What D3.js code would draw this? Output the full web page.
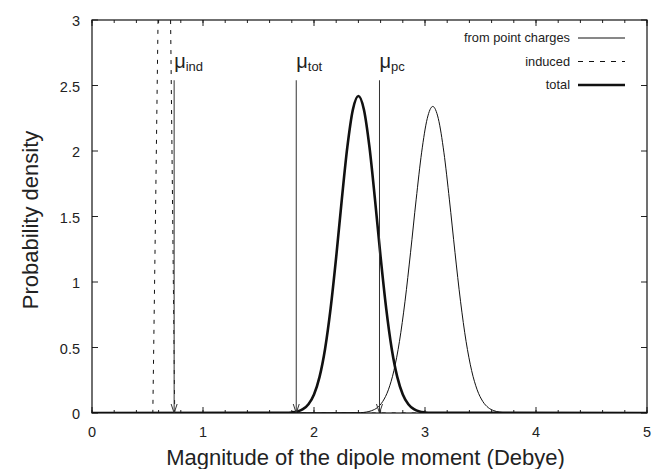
<!DOCTYPE html>
<html>
<head>
<meta charset="utf-8">
<script src="https://cdn.jsdelivr.net/npm/d3@7"></script>
<style>
  body { margin: 0; background: #fff; }
  svg { font-family: "Liberation Sans", Arial, sans-serif; }
</style>
</head>
<body>
<div id="mount"></div>
<script>
// curves (x in Debye, y = probability density)
var pcX = [0, 2.42, 2.47, 2.52, 2.57, 2.62, 2.67, 2.72, 2.77, 2.82, 2.87, 2.92, 2.97, 3.02, 3.07,
           3.12, 3.17, 3.22, 3.27, 3.32, 3.37, 3.42, 3.47, 3.52, 3.57, 3.62, 3.67, 3.72, 5];
var pcY = [0, 0.003, 0.007, 0.018, 0.041, 0.089, 0.177, 0.324, 0.547, 0.853, 1.227, 1.627, 1.991, 2.247, 2.34,
           2.247, 1.991, 1.627, 1.227, 0.853, 0.547, 0.324, 0.177, 0.089, 0.041, 0.018, 0.007, 0.003, 0];

var indX = [0, 0.548, 0.572, 0.595, 0.65, 0.708, 0.727, 0.745, 5];
var indY = [0, 0, 1.5, 3, 6, 3, 1.5, 0, 0];

var totX = [0, 1.75, 1.80, 1.85, 1.90, 1.95, 2.00, 2.05, 2.10, 2.15, 2.20, 2.25, 2.30, 2.35, 2.40,
            2.45, 2.50, 2.55, 2.60, 2.65, 2.70, 2.75, 2.80, 2.85, 2.90, 2.95, 3.00, 3.05, 5];
var totY = [0, 0.001, 0.004, 0.011, 0.029, 0.067, 0.142, 0.276, 0.491, 0.8, 1.191, 1.625, 2.027, 2.315, 2.42,
            2.315, 2.027, 1.625, 1.191, 0.8, 0.491, 0.276, 0.142, 0.067, 0.029, 0.011, 0.004, 0.001, 0];

// mean values marked with arrows
var markerNames = ['ind', 'tot', 'pc'];
var markerX = [0.74, 1.84, 2.59];
var markerTop = 2.54;

var seriesNames = ['from point charges', 'induced', 'total'];
var xTicks = [0, 1, 2, 3, 4, 5];
var yTicks = [0, 0.5, 1, 1.5, 2, 2.5, 3];

var margin = { top: 20, right: 5, bottom: 56, left: 92 };
var width = 652 - margin.left - margin.right,
    height = 469 - margin.top - margin.bottom;

var svg = d3.select('#mount').append('svg')
    .attr('width', 652)
    .attr('height', 469);

var graph = svg.append('g')
    .attr('transform', `translate(${margin.left},${margin.top})`);

var x = d3.scaleLinear().domain([0, 5]).range([0, width]);
var y = d3.scaleLinear().domain([0, 3]).range([height, 0]);

svg.append('defs').append('clipPath').attr('id', 'clip')
  .append('rect').attr('width', width).attr('height', height);

// ticks point inward, mirrored on top and right like gnuplot
var minor = d3.range(0, 5.001, 0.2);
function tickMarks(sel, vals, len, axis) {
  if (axis === 'x') {
    sel.selectAll(null).data(vals).enter().append('line')
        .attr('x1', d => x(d)).attr('x2', d => x(d))
        .attr('y1', height).attr('y2', height - len);
    sel.selectAll(null).data(vals).enter().append('line')
        .attr('x1', d => x(d)).attr('x2', d => x(d))
        .attr('y1', 0).attr('y2', len);
  } else {
    sel.selectAll(null).data(vals).enter().append('line')
        .attr('y1', d => y(d)).attr('y2', d => y(d))
        .attr('x1', 0).attr('x2', len);
    sel.selectAll(null).data(vals).enter().append('line')
        .attr('y1', d => y(d)).attr('y2', d => y(d))
        .attr('x1', width).attr('x2', width - len);
  }
}
var ticks = graph.append('g').attr('stroke', '#222').attr('stroke-width', 1);
tickMarks(ticks, minor, 3, 'x');
tickMarks(ticks, xTicks, 6, 'x');
tickMarks(ticks, yTicks, 6, 'y');

graph.append('g').selectAll('text').data(xTicks).enter().append('text')
    .attr('x', d => x(d)).attr('y', height + 24)
    .attr('text-anchor', 'middle')
    .style('font-size', '14.5px').style('fill', '#222')
    .text(d => d);

graph.append('g').selectAll('text').data(yTicks).enter().append('text')
    .attr('x', -12).attr('y', d => y(d) + 6)
    .attr('text-anchor', 'end')
    .style('font-size', '14.5px').style('fill', '#222')
    .text(d => d);

// axis titles
svg.append('text')
    .attr('x', margin.left + width / 2 - 4).attr('y', 465)
    .attr('text-anchor', 'middle')
    .style('font-size', '22px').style('fill', '#222')
    .text('Magnitude of the dipole moment (Debye)');

svg.append('text')
    .attr('transform', 'translate(38,220) rotate(-90)')
    .attr('text-anchor', 'middle')
    .style('font-size', '22px').style('fill', '#222')
    .text('Probability density');

// curves
var line = d3.line()
    .x(d => x(d[0]))
    .y(d => y(d[1]))
    .curve(d3.curveMonotoneX);

var plot = graph.append('g').attr('clip-path', 'url(#clip)').attr('fill', 'none').attr('stroke', '#111');

plot.append('path')
    .datum(d3.zip(pcX, pcY))
    .attr('stroke-width', 1)
    .attr('d', line);

plot.append('path')
    .datum(d3.zip(indX, indY))
    .attr('stroke-width', 1)
    .attr('stroke-dasharray', '4,6')
    .attr('d', line.curve(d3.curveLinear));

plot.append('path')
    .datum(d3.zip(totX, totY))
    .attr('stroke-width', 2.6)
    .attr('d', line.curve(d3.curveMonotoneX));

// arrows for the mean values
var marks = graph.append('g');
markerX.forEach(function(mx, i) {
  var px = x(mx);
  marks.append('line')
      .attr('x1', px).attr('x2', px)
      .attr('y1', y(markerTop)).attr('y2', y(0))
      .attr('stroke', '#333').attr('stroke-width', 1);
  marks.append('path')
      .attr('d', `M${px - 3},${y(0) - 9}L${px},${y(0)}L${px + 3},${y(0) - 9}`)
      .attr('fill', 'none').attr('stroke', '#333').attr('stroke-width', 1);
  var t = marks.append('text')
      .attr('x', px).attr('y', y(markerTop) - 12)
      .style('fill', '#222');
  t.append('tspan').style('font-size', '20px').text('μ');
  t.append('tspan').style('font-size', '13px').attr('dy', 3).text(markerNames[i]);
});

// frame
graph.append('rect')
    .attr('width', width).attr('height', height)
    .attr('fill', 'none').attr('stroke', '#111').attr('stroke-width', 1.2);

// legend
var legend = graph.append('g');
var dashes = [null, '5,6', null];
var widths = [1, 1, 2.6];
seriesNames.forEach(function(name, i) {
  var ly = 18 + i * 23.5;
  legend.append('text')
      .attr('x', 478).attr('y', ly + 4)
      .attr('text-anchor', 'end')
      .style('font-size', '12.8px').style('fill', '#222')
      .text(name);
  legend.append('line')
      .attr('x1', 486).attr('x2', 533)
      .attr('y1', ly).attr('y2', ly)
      .attr('stroke', '#111').attr('stroke-width', widths[i])
      .attr('stroke-dasharray', dashes[i]);
});
</script>
</body>
</html>
